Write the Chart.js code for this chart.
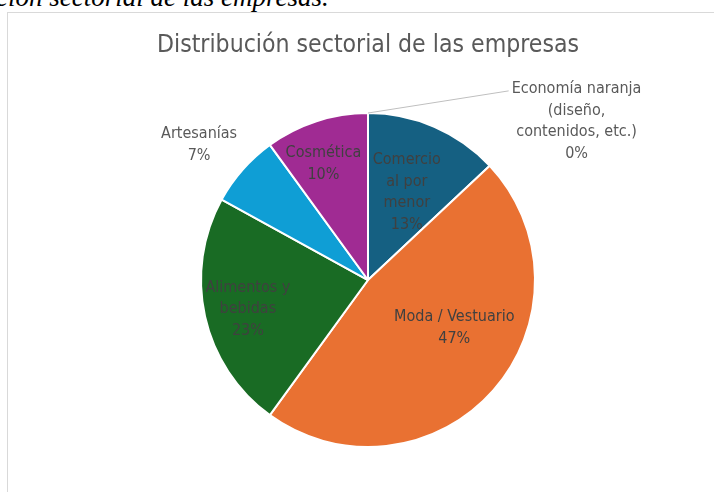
<!DOCTYPE html>
<html>
<head>
<meta charset="utf-8">
<script src="https://cdn.jsdelivr.net/npm/chart.js@4.4.1/dist/chart.umd.min.js"></script>
<style>
  html, body { margin: 0; padding: 0; background: #fff; }
  body { width: 714px; height: 492px; position: relative; overflow: hidden; }
  #caption {
    position: absolute; left: -4px; top: -18px;
    font: italic 27px "Liberation Serif", "DejaVu Serif", serif;
    color: #000; white-space: nowrap;
  }
  #frame {
    position: absolute; left: 7px; top: 12px; width: 720px; height: 500px;
    border-left: 1px solid #d9d9d9; border-top: 1px solid #d9d9d9;
  }
  #chart { position: absolute; left: 0; top: 0; }
</style>
</head>
<body>
<div id="caption">ción sectorial de las empresas.</div>
<div id="frame"></div>
<canvas id="chart" width="714" height="492"></canvas>
<script>
const sectors = ['Comercio al por menor', 'Moda / Vestuario', 'Alimentos y bebidas', 'Artesanías', 'Cosmética', 'Economía naranja (diseño, contenidos, etc.)'];
const shares = [13, 47, 23, 7, 10, 0];
const sectorLines = [
  ['Comercio', 'al por', 'menor'],
  ['Moda / Vestuario'],
  ['Alimentos y', 'bebidas'],
  ['Artesanías'],
  ['Cosmética'],
  ['Economía naranja', '(diseño,', 'contenidos, etc.)']
];
const sectorColors = ['#156082', '#E97132', '#196B24', '#0F9ED5', '#A02B93', '#4EA72E'];

// label placement: angle nudge (deg, clockwise) and distance as fraction of radius
const labelTurn = [0.5, -12.5, -1, -2.7, -3, 52.7];
const labelDist = [0.573, 0.59, 0.74, 1.296, 0.745, 1.57];
const labelOutside = [false, false, false, true, false, true];

const labelFont = '16px "Liberation Sans Narrow", "DejaVu Sans Condensed", sans-serif';
const lineGap = 21.5;

const sliceLabels = {
  id: 'sliceLabels',
  afterDatasetsDraw(chart) {
    const ctx = chart.ctx;
    const meta = chart.getDatasetMeta(0);
    const total = shares.reduce((a, b) => a + b, 0);
    ctx.save();
    ctx.font = labelFont;
    ctx.textAlign = 'center';
    ctx.textBaseline = 'middle';
    meta.data.forEach((arc, i) => {
      const p = arc.getProps(['x', 'y', 'startAngle', 'endAngle', 'outerRadius'], true);
      const a = (p.startAngle + p.endAngle) / 2 + labelTurn[i] * Math.PI / 180;
      const cx = p.x + Math.cos(a) * p.outerRadius * labelDist[i];
      const cy = p.y + Math.sin(a) * p.outerRadius * labelDist[i];
      const lines = sectorLines[i].concat([Math.round(shares[i] / total * 100) + '%']);
      const y0 = cy - (lines.length - 1) * lineGap / 2;
      ctx.fillStyle = labelOutside[i] ? '#595959' : '#404040';
      lines.forEach((t, k) => ctx.fillText(t, cx, y0 + k * lineGap));

      if (shares[i] === 0) {
        // leader line for the empty slice
        const ex = p.x + Math.cos(p.endAngle) * p.outerRadius;
        const ey = p.y + Math.sin(p.endAngle) * p.outerRadius;
        const w = ctx.measureText(lines[0]).width;
        ctx.strokeStyle = '#bfbfbf';
        ctx.lineWidth = 1;
        ctx.beginPath();
        ctx.moveTo(ex, ey);
        ctx.lineTo(cx - w / 2 - 3, y0 + 2);
        ctx.stroke();
      }
    });
    ctx.restore();
  }
};

new Chart(document.getElementById('chart'), {
  type: 'pie',
  data: {
    labels: sectors,
    datasets: [{
      data: shares,
      backgroundColor: sectorColors,
      borderColor: '#ffffff',
      borderWidth: 2
    }]
  },
  options: {
    responsive: false,
    animation: false,
    layout: { padding: { left: 22, right: 0, top: 31, bottom: 44 } },
    plugins: {
      legend: { display: false },
      tooltip: { enabled: false },
      title: {
        display: true,
        text: 'Distribución sectorial de las empresas',
        color: '#595959',
        font: { family: '"Liberation Sans Narrow", "DejaVu Sans Condensed", sans-serif', size: 24.6, weight: 'normal', lineHeight: 1.2 },
        padding: { top: 0, bottom: 51.5 }
      }
    }
  },
  plugins: [sliceLabels]
});
</script>
</body>
</html>
